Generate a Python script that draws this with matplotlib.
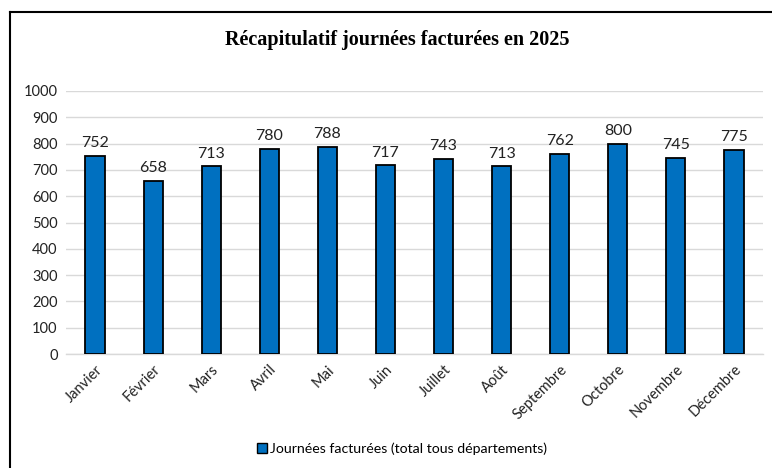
import matplotlib
matplotlib.use("Agg")
import matplotlib.pyplot as plt
from matplotlib.lines import Line2D
from matplotlib.patches import Patch

months = ["Janvier", "Février", "Mars", "Avril", "Mai", "Juin", "Juillet",
          "Août", "Septembre", "Octobre", "Novembre", "Décembre"]
values = [752, 658, 713, 780, 788, 717, 743, 713, 762, 800, 745, 775]
yticks = [0, 100, 200, 300, 400, 500, 600, 700, 800, 900, 1000]
title = "Récapitulatif journées facturées en 2025"
series_name = "Journées facturées (total tous départements)"

W, H = 772, 468
fig = plt.figure(figsize=(W / 100, H / 100), dpi=100)
ax = fig.add_axes([66 / W, 1 - 354 / H, (763 - 66) / W, (354 - 91) / H])

font = "Lato"
x = list(range(len(months)))
bars = ax.bar(x, values, width=0.33, color="#0070C0", edgecolor="black",
              linewidth=1.3, zorder=3, label=series_name)
for xi, v in zip(x, values):
    ax.text(xi, v + 22, str(v), ha="center", va="bottom", fontsize=11.5,
            family=font, color="#222222")

ax.set_xlim(-0.5, len(months) - 0.5)
ax.set_ylim(0, 1000)
ax.set_yticks(yticks)
ax.set_yticklabels([str(t) for t in yticks], family=font, fontsize=10.5)
ax.set_xticks(x)
ax.set_xticklabels(months, rotation=45, ha="right", rotation_mode="anchor",
                   family=font, fontsize=10.5)
ax.tick_params(axis="both", length=0, pad=6, colors="#222222")
ax.grid(axis="y", color="#D9D9D9", linewidth=1, zorder=0)
for s in ["top", "right", "left"]:
    ax.spines[s].set_visible(False)
ax.spines["bottom"].set_color("#D9D9D9")
ax.spines["bottom"].set_linewidth(1)

fig.text(397 / W, 1 - 40 / H, title, ha="center", va="center",
         family="Liberation Serif", fontweight="bold", fontsize=14.5)

handle = Patch(facecolor="#0070C0", edgecolor="black", linewidth=1)
fig.legend([handle], [series_name], loc="center", bbox_to_anchor=(402 / W, 1 - 449 / H),
           frameon=False, prop={"family": font, "size": 10.2}, handlelength=0.7,
           handleheight=0.7, handletextpad=0.2)

fig.add_artist(Line2D([10 / W, 10 / W], [0, 1 - 12 / H], color="black", linewidth=1.5,
                      transform=fig.transFigure))
fig.add_artist(Line2D([10 / W, 1], [1 - 12 / H, 1 - 12 / H], color="black", linewidth=1.5,
                      transform=fig.transFigure))

fig.savefig("out.png", dpi=100)
